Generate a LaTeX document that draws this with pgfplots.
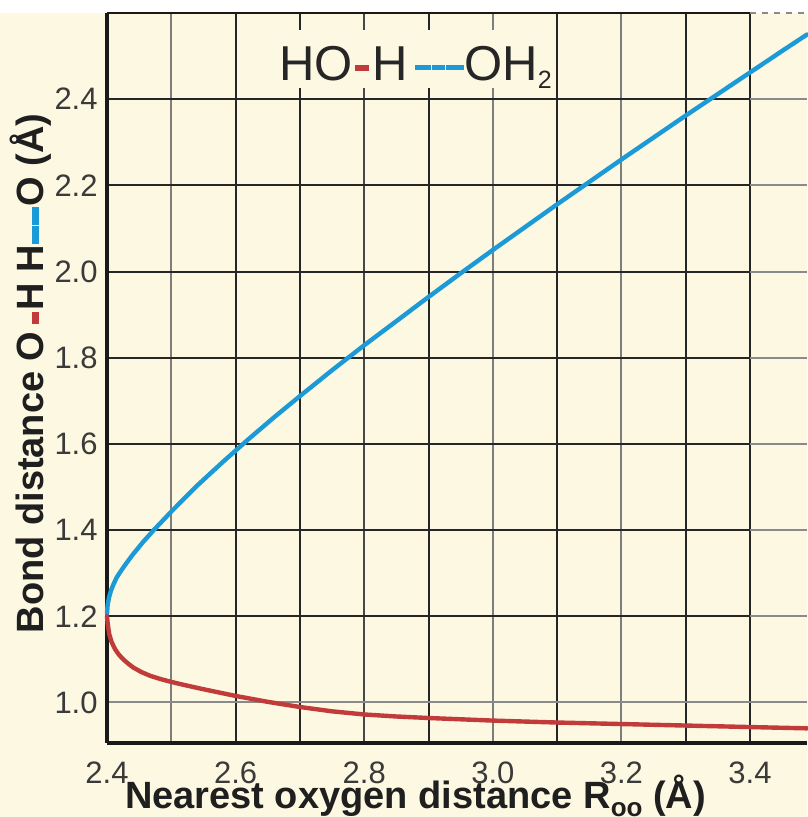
\documentclass[border=0pt]{standalone}
\usepackage{fontspec}
\setmainfont{Liberation Sans}
\usepackage{pgfplots}
\pgfplotsset{compat=1.18}
\definecolor{bg}{HTML}{FDF8E1}
\definecolor{cblue}{HTML}{1C9AD8}
\definecolor{cred}{HTML}{C23B3B}
\definecolor{tcol}{HTML}{3A3A3A}
\definecolor{gridc}{HTML}{262626}
\definecolor{gridl}{HTML}{8A8A8A}

\pgfplotstableread{
x y
2.4000 1.207
2.4010 1.226
2.4030 1.243
2.4060 1.259
2.4100 1.274
2.4150 1.290
2.4220 1.306
2.4300 1.323
2.4400 1.343
2.4550 1.3705
2.4720 1.399
2.5000 1.443
2.5400 1.503
2.5800 1.558
2.6200 1.611
2.6600 1.662
2.7000 1.711
2.7500 1.771
2.8000 1.829
2.8500 1.885
2.9000 1.941
2.9500 1.996
3.0000 2.050
3.0500 2.103
3.1000 2.156
3.1500 2.208
3.2000 2.260
3.2500 2.311
3.3000 2.362
3.3500 2.412
3.4000 2.462
3.4500 2.512
3.4886 2.550
}\bluedata

\pgfplotstableread{
x y
2.4000 1.2000
2.4010 1.1840
2.4022 1.1710
2.4036 1.1580
2.4070 1.1410
2.4124 1.1240
2.4185 1.1110
2.4254 1.1000
2.4330 1.0900
2.4410 1.0810
2.4530 1.0710
2.4670 1.0620
2.4840 1.0540
2.5020 1.0470
2.5220 1.0400
2.5446 1.0325
2.5700 1.0245
2.6000 1.0152
2.6500 1.0015
2.7000 0.9895
2.7500 0.9795
2.8000 0.9722
2.8500 0.9675
2.9000 0.9640
3.0000 0.9580
3.1000 0.9535
3.2000 0.9500
3.3000 0.9465
3.4000 0.9430
3.4886 0.9400
}\reddata

\begin{document}
\begin{tikzpicture}
\useasboundingbox (-53.5pt,-37pt) rectangle (350pt,371.5pt);
\fill[white] (-53.5pt,-37pt) rectangle (350pt,371.5pt);
\fill[bg] (-53.5pt,-37pt) rectangle (350pt,365pt);
\begin{axis}[
  at={(0,0)}, anchor=south west,
  scale only axis, width=350pt, height=365pt,
  xmin=2.4, xmax=3.4886, ymin=0.906, ymax=2.6,
  clip=false,
  axis line style={draw=none},
  major tick length=0pt, minor tick length=0pt,
  xtick={2.4,2.6,2.8,3.0,3.2,3.4},
  xticklabels={2.4,2.6,2.8,3.0,3.2,3.4},
  ytick={1.0,1.2,1.4,1.6,1.8,2.0,2.2,2.4},
  yticklabels={1.0,1.2,1.4,1.6,1.8,2.0,2.2,2.4},
  tick label style={font=\fontsize{15.5}{18}\selectfont, text=tcol},
  xticklabel style={anchor=north, inner sep=0pt, yshift=-9pt},
  yticklabel style={anchor=east, inner sep=0pt, xshift=-4.5pt},
  xlabel={Nearest oxygen distance R\raisebox{-0.22em}{\fontsize{13}{13}\selectfont oo} (Å)},
  xlabel style={at={(axis description cs:0.4407,-0.0895)}, anchor=base, inner sep=0pt,
    font=\fontsize{19}{22}\selectfont\bfseries, text=black!88},
  ylabel={Bond distance O\hspace{0.2em}\textcolor{cred}{\rule[0.11em]{0.32em}{0.18em}}\hspace{0.03em}H H\hspace{0.03em}\textcolor{cblue}{\rule[0.11em]{0.47em}{0.18em}\hspace{0.04em}\rule[0.11em]{0.47em}{0.18em}}O (Å)},
  ylabel style={at={(axis description cs:-0.0914,0.506)}, anchor=base, rotate=0, inner sep=0pt,
    font=\fontsize{19}{22}\selectfont\bfseries, text=black!88},
]
% vertical grid
\draw[gridc!60, line width=1pt] (axis cs:2.5,0.906) -- (axis cs:2.5,2.6);
\draw[gridc, line width=1pt] (axis cs:2.6,0.906) -- (axis cs:2.6,2.6);
\draw[gridc, line width=1pt] (axis cs:2.7,0.906) -- (axis cs:2.7,2.6);
\draw[gridc!85, line width=1pt] (axis cs:2.8,0.906) -- (axis cs:2.8,2.6);
\draw[gridc, line width=1pt] (axis cs:2.9,0.906) -- (axis cs:2.9,2.6);
\draw[gridc!60, line width=1pt] (axis cs:3.0,0.906) -- (axis cs:3.0,2.6);
\draw[gridc, line width=1pt] (axis cs:3.1,0.906) -- (axis cs:3.1,2.6);
\draw[gridc!60, line width=1pt] (axis cs:3.2,0.906) -- (axis cs:3.2,2.6);
\draw[gridc, line width=1pt] (axis cs:3.3,0.906) -- (axis cs:3.3,2.6);
\draw[gridc, line width=1.2pt] (axis cs:3.4,0.906) -- (axis cs:3.4,2.6);
% horizontal grid
\draw[gridl, line width=1pt] (axis cs:2.4,1.0) -- (axis cs:3.4886,1.0);
\pgfplotsinvokeforeach{1.2,1.4,1.6,1.8,2.0,2.2,2.4}{
  \draw[gridc, line width=1pt] (axis cs:2.4,#1) -- (axis cs:3.4,#1);
  \draw[gridl, line width=1pt] (axis cs:3.4,#1) -- (axis cs:3.4886,#1);
}
% title box background
\fill[bg] (axis cs:2.669,2.4255) rectangle (axis cs:3.097,2.560);
% axis frame
\draw[black!90, line width=0.85pt] (axis cs:2.4,2.6) -- (axis cs:3.4,2.6);
\draw[gridl, dashed, line width=0.8pt] (axis cs:3.4,2.6) -- (axis cs:3.4886,2.6);
\draw[black!90, line width=1.8pt] (axis cs:2.4,0.906) -- (axis cs:2.4,2.6);
\draw[black!90, line width=1.7pt] (axis cs:2.4,0.906) -- (axis cs:3.4886,0.906);
% curves
\addplot[cblue, line width=2.2pt, line cap=round, line join=round] table[x=x,y=y] {\bluedata};
\addplot[cred, line width=2.2pt, line cap=round, line join=round] table[x=x,y=y] {\reddata};
% title
\node[anchor=base, inner sep=0pt, text=black!85, font=\fontsize{24.5}{28}\selectfont] at (axis cs:2.8798,2.444)
  {HO\hspace{0.04em}\textcolor{cred}{\rule[0.185em]{0.3em}{0.12em}}\hspace{0.06em}H\hspace{0.16em}\textcolor{cblue}{\rule[0.2em]{0.32em}{0.11em}\hspace{0.02em}\rule[0.2em]{0.27em}{0.11em}\hspace{0.02em}\rule[0.2em]{0.37em}{0.11em}}OH\raisebox{-0.17em}{\fontsize{12.5}{13}\selectfont 2}};
\end{axis}
\end{tikzpicture}
\end{document}
